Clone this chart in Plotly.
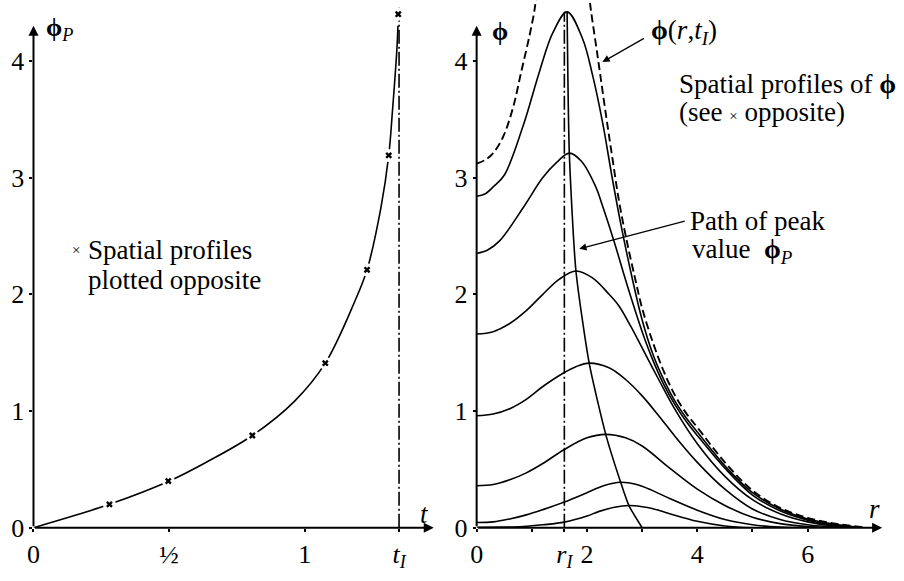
import plotly.graph_objects as go

# ---------------- data ----------------
# left panel: peak value phi_P versus time t
t_curve = [0, 0.145, 0.28, 0.497, 0.634, 0.807, 0.963, 1.076, 1.183, 1.23, 1.281, 1.31, 1.323, 1.34, 1.344]
phiP_curve = [0, 0.10, 0.20, 0.396, 0.557, 0.79, 1.085, 1.41, 1.93, 2.21, 2.74, 3.19, 3.55, 4.10, 4.30]
t_marks = [0.28, 0.497, 0.807, 1.076, 1.23, 1.31, 1.345]
phiP_marks = [0.20, 0.40, 0.79, 1.41, 2.21, 3.19, 4.40]
t_I = 1.348

left_xticks = [0, 0.5, 1, t_I]
left_xtext = ["0", "½", "1", "<i>t<sub>I</sub></i>"]
y_ticks = [0, 1, 2, 3, 4]

# right panel: spatial profiles phi(r) at the marked times
r_p1 = [0, 0.5, 0.84, 1.2, 1.59, 2.0, 2.22, 2.5, 2.76, 3.0, 3.18, 3.5, 4.0, 4.5, 5.0]
phi_p1 = [0.004, 0.005, 0.01, 0.025, 0.048, 0.10, 0.14, 0.175, 0.19, 0.18, 0.165, 0.12, 0.055, 0.015, 0.0]

r_p2 = [0, 0.3, 0.6, 0.9, 1.2, 1.59, 2.0, 2.3, 2.61, 2.9, 3.18, 3.5, 4.0, 4.5, 5.0, 5.5, 6.0]
phi_p2 = [0.045, 0.05, 0.075, 0.11, 0.155, 0.22, 0.30, 0.36, 0.39, 0.37, 0.32, 0.25, 0.15, 0.07, 0.025, 0.005, 0.0]

r_p3 = [0, 0.3, 0.6, 0.9, 1.2, 1.59, 2.0, 2.34, 2.7, 3.0, 3.5, 4.0, 4.5, 5.0, 5.5, 6.0, 6.5]
phi_p3 = [0.36, 0.37, 0.41, 0.47, 0.55, 0.67, 0.77, 0.80, 0.77, 0.70, 0.51, 0.33, 0.19, 0.09, 0.035, 0.01, 0.0]

r_p4 = [0, 0.3, 0.6, 0.9, 1.2, 1.59, 1.8, 2.04, 2.4, 2.7, 3.0, 3.3, 3.6, 4.0, 4.5, 5.0, 5.5, 6.0, 6.5, 7.0]
phi_p4 = [0.96, 0.975, 1.02, 1.10, 1.21, 1.33, 1.38, 1.41, 1.37, 1.27, 1.13, 0.96, 0.78, 0.56, 0.33, 0.16, 0.07, 0.025, 0.005, 0.0]

r_p5 = [0, 0.3, 0.6, 0.9, 1.2, 1.5, 1.8, 2.1, 2.4, 2.58, 2.8, 3.0, 3.3, 3.6, 4.0, 4.5, 5.0, 5.5, 6.0, 6.5, 7.0]
phi_p5 = [1.66, 1.68, 1.75, 1.86, 2.00, 2.13, 2.20, 2.14, 2.00, 1.90, 1.72, 1.54, 1.27, 1.01, 0.72, 0.44, 0.24, 0.12, 0.05, 0.015, 0.0]

r_p6 = [0, 0.2, 0.42, 0.84, 1.2, 1.45, 1.68, 1.9, 2.16, 2.28, 2.5, 2.67, 2.8, 3.0, 3.2, 3.4, 3.6, 3.8, 4.0, 4.5, 5.0, 5.5, 6.0, 6.5, 7.0]
phi_p6 = [2.35, 2.38, 2.46, 2.74, 3.0, 3.13, 3.21, 3.14, 2.92, 2.76, 2.44, 2.17, 1.97, 1.68, 1.43, 1.22, 1.05, 0.91, 0.79, 0.51, 0.28, 0.145, 0.065, 0.02, 0.0]

r_p7 = [0, 0.15, 0.3, 0.5, 0.84, 1.14, 1.38, 1.64, 1.92, 2.1, 2.28, 2.46, 2.61, 2.8, 3.0, 3.2, 3.4, 3.6, 3.8, 4.0, 4.5, 5.0, 5.5, 6.0, 6.5, 7.0]
phi_p7 = [2.84, 2.86, 2.92, 3.02, 3.44, 3.91, 4.24, 4.42, 4.19, 3.88, 3.48, 2.99, 2.61, 2.18, 1.78, 1.48, 1.26, 1.08, 0.94, 0.82, 0.53, 0.30, 0.16, 0.075, 0.03, 0.0]

# dashed profile phi(r, t_I) : two branches (left one leaves the top of the frame)
r_tI_left = [0, 0.15, 0.3, 0.48, 0.66, 0.81, 0.96, 1.05, 1.09]
phi_tI_left = [3.12, 3.15, 3.21, 3.35, 3.60, 3.91, 4.22, 4.44, 4.60]
r_tI_right = [2.03, 2.07, 2.19, 2.34, 2.46, 2.58, 2.72, 2.88, 3.0, 3.2, 3.4, 3.6, 3.8, 4.0, 4.5, 5.0, 5.5, 6.0, 6.5, 7.0]
phi_tI_right = [4.60, 4.44, 4.05, 3.55, 3.17, 2.80, 2.46, 2.12, 1.88, 1.58, 1.33, 1.13, 0.98, 0.86, 0.56, 0.32, 0.17, 0.085, 0.035, 0.005]

# path of the peak value
r_path = [1.64, 1.68, 1.80, 2.04, 2.34, 2.61, 2.76, 3.0]
phi_path = [4.42, 3.21, 2.20, 1.41, 0.80, 0.39, 0.19, 0.0]
r_I = 1.59

right_xticks = [0, r_I, 2, 4, 6]
right_xtext = ["0", "<i>r<sub>I</sub></i>", "2", "4", "6"]
right_minor = [1, 3, 5]

# ---------------- figure geometry ----------------
W, H = 904, 581
L_X0, L_SCALE = 26.7, 273.3      # pixel of t=0, pixels per unit t
R_X0, R_SCALE = 473.3, 55.6      # pixel of r=0, pixels per unit r
Y0, Y_SCALE = 541.7, 119.8       # pixel of phi=0, pixels per unit phi

FONT = "Liberation Serif, DejaVu Serif, serif"
BLK = "black"

fig = go.Figure()

line_w = 1.6
# left panel
fig.add_trace(go.Scatter(x=t_curve, y=phiP_curve, mode="lines", line=dict(color=BLK, width=line_w, shape="spline", smoothing=1.0),
                         xaxis="x", yaxis="y", hoverinfo="skip"))
fig.add_trace(go.Scatter(x=[t_I, t_I], y=[0, 4.47], mode="lines",
                         line=dict(color=BLK, width=1.6, dash="14px,3px,2px,3px"), xaxis="x", yaxis="y", hoverinfo="skip"))
fig.add_trace(go.Scatter(x=t_marks, y=phiP_marks, mode="markers",
                         marker=dict(symbol="circle", size=13, color="white", line=dict(width=0)),
                         xaxis="x", yaxis="y", hoverinfo="skip", cliponaxis=False))
fig.add_trace(go.Scatter(x=t_marks, y=phiP_marks, mode="markers",
                         marker=dict(symbol="x", size=6, color=BLK, line=dict(width=0)),
                         xaxis="x", yaxis="y", hoverinfo="skip", cliponaxis=False))

# right panel
profiles = [(r_p1, phi_p1), (r_p2, phi_p2), (r_p3, phi_p3), (r_p4, phi_p4),
            (r_p5, phi_p5), (r_p6, phi_p6), (r_p7, phi_p7)]
for rr, pp in profiles:
    fig.add_trace(go.Scatter(x=rr, y=pp, mode="lines",
                             line=dict(color=BLK, width=line_w, shape="spline", smoothing=1.0),
                             xaxis="x2", yaxis="y2", hoverinfo="skip"))
for rr, pp in [(r_tI_left, phi_tI_left), (r_tI_right, phi_tI_right)]:
    fig.add_trace(go.Scatter(x=rr, y=pp, mode="lines",
                             line=dict(color=BLK, width=1.9, dash="8px,4px", shape="spline", smoothing=1.0),
                             xaxis="x2", yaxis="y2", hoverinfo="skip"))
fig.add_trace(go.Scatter(x=r_path, y=phi_path, mode="lines",
                         line=dict(color=BLK, width=line_w, shape="spline", smoothing=0.6),
                         xaxis="x2", yaxis="y2", hoverinfo="skip"))
fig.add_trace(go.Scatter(x=[r_I, r_I], y=[0, 4.42], mode="lines",
                         line=dict(color=BLK, width=1.6, dash="14px,3px,2px,3px"),
                         xaxis="x2", yaxis="y2", hoverinfo="skip"))

# ---------------- axes ----------------
y_top = Y0 / Y_SCALE
y_dom0 = (H - Y0) / H
tick_font = dict(family=FONT, size=26, color=BLK)
common = dict(showgrid=False, zeroline=False, showline=False, ticks="outside", ticklen=3,
              tickwidth=1.5, tickcolor=BLK, tickfont=tick_font, fixedrange=True)
fig.update_layout(
    width=W, height=H, margin=dict(l=0, r=0, t=0, b=0),
    paper_bgcolor="white", plot_bgcolor="white", showlegend=False,
    xaxis=dict(domain=[L_X0 / W, 440 / W], range=[0, (440 - L_X0) / L_SCALE], anchor="y",
               tickvals=left_xticks, ticktext=left_xtext, **common),
    yaxis=dict(domain=[y_dom0, 1], range=[0, y_top], anchor="x",
               tickvals=y_ticks, ticktext=[str(v) for v in y_ticks], **common),
    xaxis2=dict(domain=[R_X0 / W, 1], range=[0, (W - R_X0) / R_SCALE], anchor="y2",
                tickvals=right_xticks, ticktext=right_xtext,
                minor=dict(tickvals=right_minor, ticks="outside", ticklen=3, tickwidth=1.5, tickcolor=BLK),
                **common),
    yaxis2=dict(domain=[y_dom0, 1], range=[0, y_top], anchor="x2",
                tickvals=y_ticks, ticktext=[str(v) for v in y_ticks], **common),
)

ann = []
def arrow(xr, yr, x, y, ax, ay, w=2.0, head=2, size=1.0):
    ann.append(dict(xref=xr, yref=yr, axref=xr, ayref=yr, x=x, y=y, ax=ax, ay=ay, text="",
                    showarrow=True, arrowhead=head, arrowsize=size, arrowwidth=w, arrowcolor=BLK,
                    standoff=0, startstandoff=0))

def label(xr, yr, x, y, text, size=27, xanchor="left", yanchor="middle"):
    ann.append(dict(xref=xr, yref=yr, x=x, y=y, text=text, showarrow=False, xanchor=xanchor,
                    yanchor=yanchor, font=dict(family=FONT, size=size, color=BLK)))

# axis arrows
arrow("x", "y", 0, 4.30, 0, 0)
arrow("x", "y", 1.476, 0, 0, 0)
arrow("x2", "y2", 0, 4.30, 0, 0)
arrow("x2", "y2", 7.35, 0, 0, 0)

# axis titles
label("x", "y", 0.04, 4.27, "<b>ϕ</b><sub><i>P</i></sub>", size=26)
label("x", "y", 1.443, 0.12, "<i>t</i>", size=27, xanchor="center")
label("x2", "y2", 0.25, 4.25, "<b>ϕ</b>", size=26)
label("x2", "y2", 7.22, 0.16, "<i>r</i>", size=27, xanchor="center")

# text annotations
label("x", "y", 0.158, 2.38, "×", size=15, xanchor="center")
label("x", "y", 0.195, 2.38, "Spatial profiles")
label("x", "y", 0.195, 2.12, "plotted opposite")
label("x2", "y2", 3.63, 3.80, "Spatial profiles of <b>ϕ</b>")
label("x2", "y2", 3.63, 3.56, "(see <span style='font-size:15px'>×</span> opposite)")
label("x2", "y2", 3.84, 2.63, "Path of peak")
label("x2", "y2", 3.86, 2.37, "value  <b>ϕ</b><sub><i>P</i></sub>")
label("x2", "y2", 3.12, 4.25, "<b>ϕ</b>(<i>r</i>,<i>t<sub>I</sub></i>)")

# pointer arrows
arrow("x2", "y2", 2.28, 3.99, 3.06, 4.20, w=1.2, head=2, size=1.2)
arrow("x2", "y2", 1.86, 2.39, 3.80, 2.63, w=1.2, head=2, size=1.2)

fig.update_layout(annotations=ann)
fig.write_html("out.html")
